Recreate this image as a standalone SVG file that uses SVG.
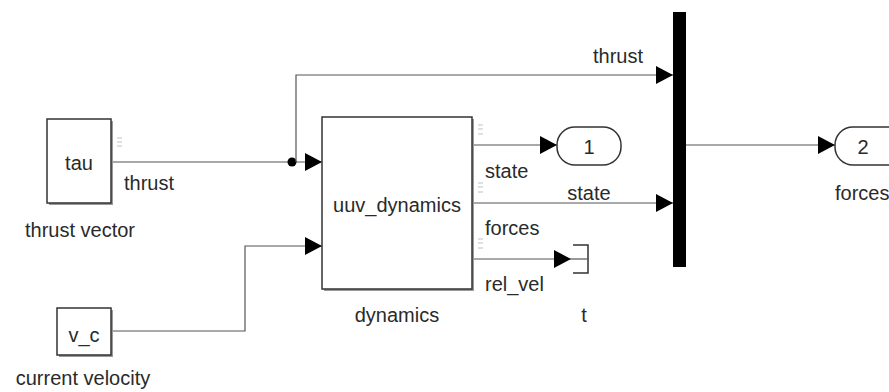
<svg xmlns="http://www.w3.org/2000/svg" width="889" height="392" viewBox="0 0 889 392">
<style>
  text { font-family: "Liberation Sans", Arial, sans-serif; font-size: 20px; fill: #2a2a2a; }
  .mid { text-anchor: middle; }
  .blk { fill: #ffffff; stroke: #333333; stroke-width: 1.5; }
  .shadow { fill: none; stroke: #9a9a9a; stroke-width: 2; }
  .wire { fill: none; stroke: #555555; stroke-width: 1.2; }
  .icon { stroke: #b8c4cc; stroke-width: 1.2; fill: none; }
</style>
<defs>
  <marker id="arr" markerUnits="userSpaceOnUse" markerWidth="18" markerHeight="20" refX="17" refY="9" orient="auto">
    <path d="M0,0 L17,9 L0,18 Z" fill="#000000"/>
  </marker>
</defs>

<g id="connectors">
  <path class="wire" d="M111,162 H322" marker-end="url(#arr)"/>
  <circle cx="292" cy="162" r="4.5" fill="#000000"/>
  <path class="wire" d="M296,162 V75 H673" marker-end="url(#arr)"/>
  <path class="wire" d="M111,331 H245 V246 H322" marker-end="url(#arr)"/>
  <path class="wire" d="M472,145 H557" marker-end="url(#arr)"/>
  <path class="wire" d="M472,203 H673" marker-end="url(#arr)"/>
  <path class="wire" d="M472,259 H571" marker-end="url(#arr)"/>
  <path class="wire" d="M686,145 H835" marker-end="url(#arr)"/>
  <text x="124" y="190">thrust</text>
  <text x="593" y="63">thrust</text>
  <text x="485" y="178">state</text>
  <text x="485" y="235">forces</text>
  <text x="485" y="291">rel_vel</text>
</g>

<g id="tau">
  <path class="shadow" d="M49,204 H112 V121"/>
  <rect class="blk" x="47" y="119" width="64" height="84"/>
  <text class="mid" x="79" y="170">tau</text>
  <text class="mid" x="80" y="237">thrust vector</text>
  <path class="icon" d="M117,138 h5 M117,142 h5 M117,146 h5"/>
</g>

<g id="v_c">
  <path class="shadow" d="M59,356 H112 V310"/>
  <rect class="blk" x="57" y="308" width="54" height="47"/>
  <text class="mid" x="84" y="342">v_c</text>
  <text class="mid" x="83" y="385">current velocity</text>
</g>

<g id="dynamics">
  <path class="shadow" d="M324,290 H473 V119"/>
  <rect class="blk" x="322" y="117" width="150" height="172"/>
  <text class="mid" x="397" y="212">uuv_dynamics</text>
  <text class="mid" x="397" y="322">dynamics</text>
  <path class="icon" d="M478,125 h5 M478,129 h5 M478,134 h5"/>
  <path class="icon" d="M478,183 h5 M478,187 h5 M478,192 h5"/>
  <path class="icon" d="M478,239 h5 M478,243 h5 M478,248 h5"/>
</g>

<g id="out1">
  <rect class="blk" x="557" y="127" width="64" height="38" rx="18"/>
  <text class="mid" x="589" y="154">1</text>
  <text class="mid" x="589" y="200">state</text>
</g>

<g id="terminator">
  <path class="blk" d="M573,245 H588 V273 H573" style="fill:none"/>
  <path class="wire" d="M571,259 H588"/>
  <text class="mid" x="584" y="322">t</text>
</g>

<g id="mux">
  <rect x="673" y="12" width="13" height="255" fill="#000000"/>
</g>

<g id="out2">
  <rect class="blk" x="835" y="127" width="70" height="38" rx="18"/>
  <text class="mid" x="863" y="154">2</text>
  <text x="835" y="200">forces</text>
</g>
</svg>
